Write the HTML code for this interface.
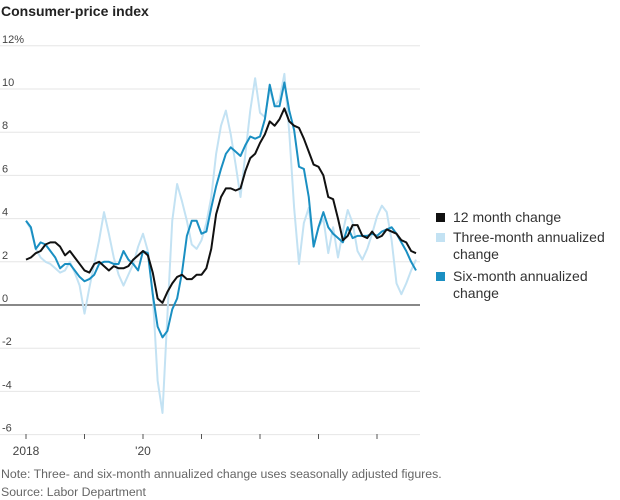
<!DOCTYPE html>
<html><head><meta charset="utf-8"><style>
body{margin:0;background:#fff;font-family:"Liberation Sans",sans-serif;}
#wrap{position:relative;width:620px;height:500px;overflow:hidden;}
.leg{position:absolute;left:436px;font-size:14px;color:#333;line-height:17px;}
.sw{position:absolute;left:0;top:4px;width:9px;height:9px;}
.lt{position:absolute;left:17px;top:0;white-space:nowrap;}
</style></head><body>
<div id="wrap">
<div style="position:absolute;left:1px;top:3px;font-size:14px;font-weight:bold;color:#222;">Consumer-price index</div>
<svg id="svg" width="620" height="500" style="position:absolute;left:0;top:0"></svg>
<div class="leg" style="top:209px"><div class="sw" style="background:#111"></div><div class="lt">12 month change</div></div>
<div class="leg" style="top:229px"><div class="sw" style="background:#c3e2f3"></div><div class="lt">Three-month annualized<br>change</div></div>
<div class="leg" style="top:268px"><div class="sw" style="background:#1a8fc2"></div><div class="lt">Six-month annualized<br>change</div></div>
<div style="position:absolute;left:1px;top:467px;font-size:12.3px;color:#666;">Note: Three- and six-month annualized change uses seasonally adjusted figures.</div>
<div style="position:absolute;left:1px;top:485px;font-size:12.3px;color:#666;">Source: Labor Department</div>
</div>
<script>
const yTicks=[12,10,8,6,4,2,0,-2,-4,-6];
const xTickYears=[2018,2019,2020,2021,2022,2023,2024];
const xTickLabels=["2018","","'20","","","",""];
const twelveMonth=[2.1,2.2,2.4,2.5,2.8,2.9,2.9,2.7,2.3,2.5,2.2,1.9,
1.6,1.5,1.9,2.0,1.8,1.6,1.8,1.7,1.7,1.8,2.1,2.3,
2.5,2.3,1.5,0.3,0.1,0.6,1.0,1.3,1.4,1.2,1.2,1.4,
1.4,1.7,2.6,4.2,5.0,5.4,5.4,5.3,5.4,6.2,6.8,7.0,
7.5,7.9,8.5,8.3,8.6,9.1,8.5,8.3,8.2,7.7,7.1,6.5,
6.4,6.0,5.0,4.9,4.0,3.0,3.2,3.7,3.7,3.2,3.1,3.4,
3.1,3.2,3.5,3.4,3.3,3.0,2.9,2.5,2.4];
const sixMonth=[3.9,3.6,2.6,2.9,2.8,2.5,2.2,1.7,1.9,1.9,1.6,1.3,
1.1,1.2,1.4,1.9,2.0,2.0,1.9,1.9,2.5,2.1,1.9,1.6,
2.5,2.4,0.5,-1.0,-1.5,-1.2,-0.2,0.3,1.5,3.2,3.9,3.9,
3.3,3.4,4.5,5.5,6.3,7.0,7.3,7.1,6.9,7.4,7.8,7.7,
7.8,8.6,10.2,9.2,9.2,10.3,9.0,8.1,6.4,6.3,5.0,2.7,
3.6,4.3,3.6,3.3,3.1,2.9,3.6,3.1,3.2,3.2,3.2,3.3,
3.2,3.4,3.5,3.6,3.3,2.9,2.5,2.0,1.6];
const threeMonth=[3.9,3.5,2.6,2.2,2.0,1.9,1.7,1.5,1.6,2.0,1.5,0.9,
-0.4,0.8,1.9,3.0,4.3,3.3,2.2,1.4,0.9,1.4,1.9,2.7,
3.3,2.5,0.5,-3.5,-5.0,-0.5,3.9,5.6,4.8,3.9,2.8,2.6,
3.0,3.8,5.0,7.0,8.3,9.0,7.9,6.5,5.0,7.0,9.0,10.5,
8.9,8.7,10.0,9.2,9.5,10.7,8.0,4.5,1.9,3.8,4.5,2.7,
3.6,4.0,2.4,3.6,2.2,3.4,4.4,3.8,2.5,2.1,2.6,3.3,
4.1,4.6,4.3,3.0,1.0,0.5,1.0,1.6,2.1];
const NS="http://www.w3.org/2000/svg";
const svg=document.getElementById('svg');
const X0=26,X1=420,MW=58.5/12;
const x=i=>X0+i*MW;
const y=v=>305-v*21.6;
function mk(t,a){const e=document.createElementNS(NS,t);for(const k in a)e.setAttribute(k,a[k]);svg.appendChild(e);return e;}
yTicks.forEach(v=>{
  const g=mk('line',{x1:0,x2:X1,y1:y(v),y2:y(v),stroke:v===0?'#888':'#e6e6e6','stroke-width':v===0?2:1});
  
  
  const t=mk('text',{x:2,y:y(v)-3,'font-size':11,fill:'#444','font-family':'Liberation Sans'});
  t.textContent=v===12?'12%':String(v);
  
  
});
xTickYears.forEach((yr,k)=>{
  const xi=x((yr-2018)*12);
  const l=mk('line',{x1:xi,x2:xi,y1:434,y2:439,stroke:'#555','stroke-width':1});
  
  
  if(xTickLabels[k]){
    const t=mk('text',{x:xi,y:455,'font-size':12,fill:'#444','text-anchor':'middle','font-family':'Liberation Sans'});
    t.textContent=xTickLabels[k];
    
    
  }
});
function line(arr,col,w,name){
  const p=mk('polyline',{points:arr.map((v,i)=>x(i)+','+y(v)).join(' '),fill:'none',stroke:col,'stroke-width':w,'stroke-linejoin':'round'});
  
  
}
line(threeMonth,'#c3e2f3',2,'three-month-line');
line(sixMonth,'#1a8fc2',2,'six-month-line');
line(twelveMonth,'#111',2,'twelve-month-line');
</script>
</body></html>
